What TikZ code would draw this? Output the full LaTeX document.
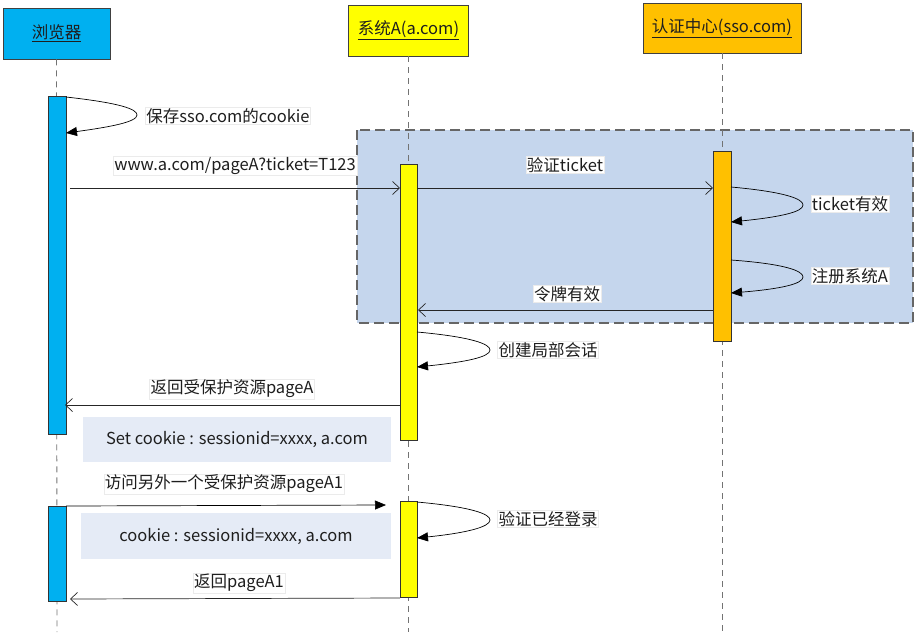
\documentclass[tikz,border=0pt]{standalone}
\usepackage{fontspec}
\setmainfont{Noto Sans CJK SC}
\usetikzlibrary{arrows.meta}
\definecolor{cbrow}{RGB}{0,176,240}
\definecolor{csys}{RGB}{255,255,0}
\definecolor{csso}{RGB}{255,192,0}
\definecolor{cregion}{RGB}{197,214,237}
\definecolor{cnote}{RGB}{229,235,246}
\definecolor{ctext}{RGB}{30,30,30}
\tikzset{
  head/.style={draw=black!75, line width=0.8pt, inner sep=0pt, text=ctext, font=\fontsize{16.5}{18}\selectfont},
  bar/.style={draw=black!80, line width=0.6pt, inner sep=0pt},
  life/.style={draw=black!55, dash pattern=on 6pt off 5pt, line width=0.8pt},
  msg/.style={draw=black!85, line width=0.7pt, -{Straight Barb[length=7pt,width=13pt,line width=0.7pt]}},
  fmsg/.style={draw=black, line width=0.7pt, -{Triangle[length=11pt,width=9pt]}},
  selfloop/.style={draw=black, line width=0.7pt, -{Triangle[length=11pt,width=9pt]}},
  lbl/.style={fill=white, draw=black!8, inner sep=1pt, text=ctext, font=\fontsize{16.5}{18}\selectfont},
  note/.style={fill=cnote, draw=none, inner sep=0pt, text=ctext, font=\fontsize{16.5}{18}\selectfont},
  region/.style={fill=cregion, draw=black!60, dash pattern=on 10pt off 5pt, line width=1.1pt}
}
\begin{document}
\begin{tikzpicture}[x=1pt,y=-1pt]
\useasboundingbox (0,0) rectangle (917,637);
% region
\draw[region] (357,130) rectangle (913,323);
% headers
\node[head, fill=cbrow, minimum width=107pt, minimum height=51pt] (hb) at (56.5,33.5) {\underline{浏览器}};
\node[head, fill=csys, minimum width=120pt, minimum height=51pt] (hs) at (408.5,30.5) {\underline{系统A(a.com)}};
\node[head, fill=csso, minimum width=158pt, minimum height=50pt] (hc) at (722,28) {\underline{认证中心(sso.com)}};
% lifelines
\coordinate (eb) at (57,632);
\coordinate (es) at (408.5,632);
\coordinate (ec) at (722,632);
\draw[life] (hb.south) -- (eb);
\draw[life] (hs.south) -- (es);
\draw[life] (hc.south) -- (ec);
% activation bars
\node[bar, fill=cbrow, minimum width=18pt, minimum height=338pt] (bb1) at (57,265) {};
\node[bar, fill=cbrow, minimum width=18pt, minimum height=95pt] (bb2) at (57,553.5) {};
\node[bar, fill=csys, minimum width=17pt, minimum height=276pt] (sa1) at (408.5,302) {};
\node[bar, fill=csys, minimum width=17pt, minimum height=96pt] (sa2) at (408.5,549) {};
\node[bar, fill=csso, minimum width=18pt, minimum height=190pt] (sc1) at (722,246) {};
% message end points
\coordinate (m1s) at (70,188);
\coordinate (m1e) at (400,188);
\coordinate (m2s) at (417,188);
\coordinate (m2e) at (713,188);
\coordinate (m3s) at (713,310);
\coordinate (m3e) at (418,310);
\coordinate (m4s) at (400,405);
\coordinate (m4e) at (65,405);
\coordinate (m5s) at (66,506);
\coordinate (m5e) at (386,505);
\coordinate (m6s) at (400,598);
\coordinate (m6e) at (70,599);
% messages
\draw[msg] (m1s) -- (m1e);
\draw[msg] (m2s) -- (m2e);
\draw[msg] (m3s) -- (m3e);
\draw[msg] (m4s) -- (m4e);
\draw[fmsg] (m5s) -- (m5e);
\draw[msg] (m6s) -- (m6e);
% self loops
\coordinate (l1s) at (66,97);  \coordinate (l1e) at (66,133);
\coordinate (l2s) at (731,187); \coordinate (l2e) at (731,222);
\coordinate (l3s) at (731,260); \coordinate (l3e) at (731,293);
\coordinate (l4s) at (417,332); \coordinate (l4e) at (417,367);
\coordinate (l5s) at (417,502); \coordinate (l5e) at (417,538);
\draw[selfloop] (l1s) .. controls (120,103) and (137,109) .. (137,115) .. controls (137,122) and (110,127) .. (l1e);
\draw[selfloop] (l2s) .. controls (786,192) and (803,199) .. (803,205) .. controls (803,212) and (780,217) .. (l2e);
\draw[selfloop] (l3s) .. controls (786,264) and (803,271) .. (803,277) .. controls (803,284) and (780,289) .. (l3e);
\draw[selfloop] (l4s) .. controls (472,337) and (490,344) .. (490,350) .. controls (490,357) and (466,362) .. (l4e);
\draw[selfloop] (l5s) .. controls (472,507) and (490,514) .. (490,520) .. controls (490,527) and (466,533) .. (l5e);
% labels
\node[lbl] (t1) at (228,116) {保存sso.com的cookie};
\node[lbl] (t2) at (235,166) {www.a.com/pageA?ticket=T123};
\node[lbl] (t3) at (565,165) {验证ticket};
\node[lbl] (t4) at (850,204) {ticket有效};
\node[lbl] (t5) at (850,276) {注册系统A};
\node[lbl] (t6) at (567,294) {令牌有效};
\node[lbl] (t7) at (548,350) {创建局部会话};
\node[lbl] (t8) at (232,389) {返回受保护资源pageA};
\node[note, minimum width=308pt, minimum height=45pt] (n1) at (237,439.5) {Set cookie : sessionid=xxxx, a.com};
\node[lbl] (t9) at (224,484) {访问另外一个受保护资源pageA1};
\node[note, minimum width=310pt, minimum height=46pt] (n2) at (236,536) {cookie : sessionid=xxxx, a.com};
\node[lbl] (t10) at (548,519) {验证已经登录};
\node[lbl] (t11) at (239,583) {返回pageA1};
\end{tikzpicture}
\end{document}
